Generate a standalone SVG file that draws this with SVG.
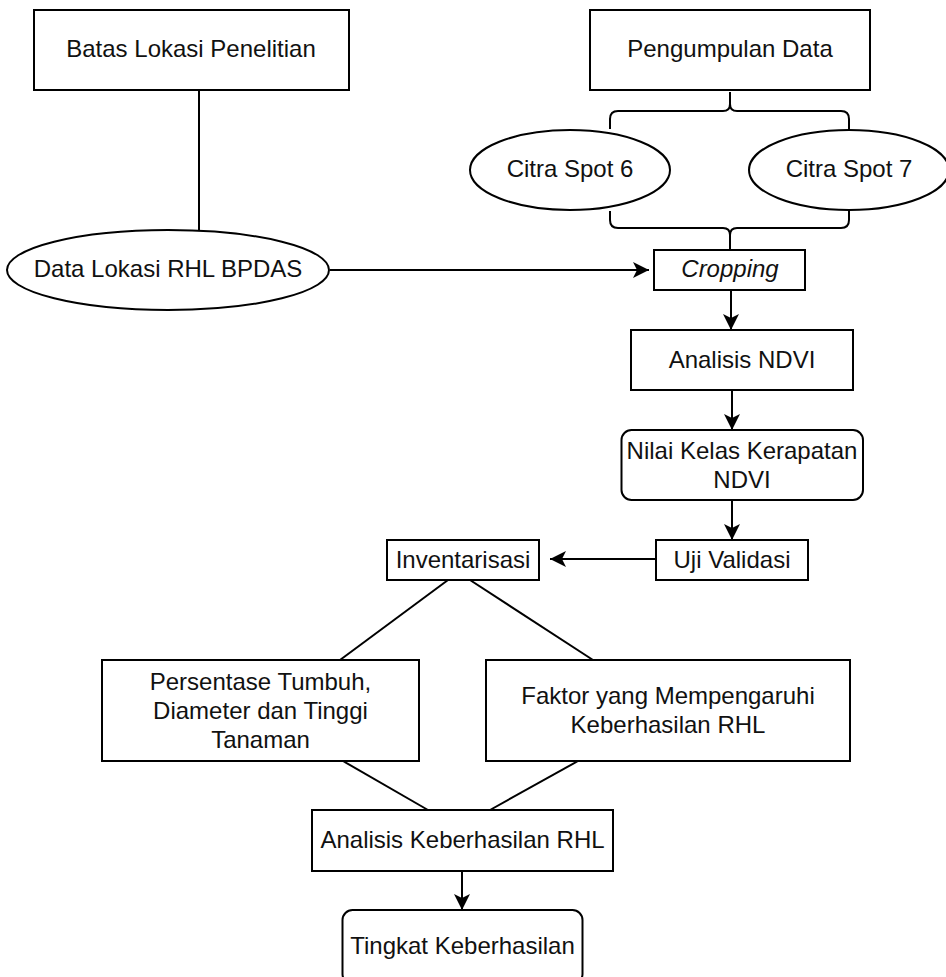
<svg xmlns="http://www.w3.org/2000/svg" width="946" height="977" viewBox="0 0 946 977">
<style>
.n{fill:#fff;stroke:#000;stroke-width:2}
.t{font-family:"Liberation Sans",Arial,sans-serif;font-size:24px;fill:#111;text-anchor:middle}
.c{fill:none;stroke:#000;stroke-width:2}
</style>
<defs>
<marker id="ah" viewBox="0 0 16 16" refX="16" refY="8" markerWidth="16" markerHeight="16" markerUnits="userSpaceOnUse" orient="auto">
<path d="M0,0 L16,8 L0,16 L4,8 z" fill="#000"/>
</marker>
</defs>
<rect width="946" height="977" fill="#fff"/>
<g id="connectors">
<path class="c" d="M199,90 V231"/>
<path class="c" d="M330,270 H649" marker-end="url(#ah)"/>
<path class="c" d="M610,129 V119 Q610,111 618,111 H723 Q730,111 730,104 V92 M730,104 Q730,111 737,111 H841 Q849,111 849,119 V129"/>
<path class="c" d="M610,211 V220 Q610,228 618,228 H723 Q730,228 730,235 V250 M730,235 Q730,228 737,228 H841 Q849,228 849,220 V211"/>
<path class="c" d="M731,290 V330" marker-end="url(#ah)"/>
<path class="c" d="M732,390 V430" marker-end="url(#ah)"/>
<path class="c" d="M732,500 V540" marker-end="url(#ah)"/>
<path class="c" d="M656,559 H550" marker-end="url(#ah)"/>
<path class="c" d="M448,580 L340,660"/>
<path class="c" d="M470,580 L593,660"/>
<path class="c" d="M343,761 L428,810"/>
<path class="c" d="M578,761 L490,810"/>
<path class="c" d="M462,871 V910" marker-end="url(#ah)"/>
</g>
<g id="batas">
<rect class="n" x="34" y="10" width="315" height="80"/>
<text class="t" x="191" y="57">Batas Lokasi Penelitian</text>
</g>
<g id="pengumpulan">
<rect class="n" x="590" y="10" width="280" height="80"/>
<text class="t" x="730" y="57">Pengumpulan Data</text>
</g>
<g id="spot6">
<ellipse class="n" cx="570" cy="170" rx="100" ry="40"/>
<text class="t" x="570" y="177">Citra Spot 6</text>
</g>
<g id="spot7">
<ellipse class="n" cx="849" cy="170" rx="100" ry="40"/>
<text class="t" x="849" y="177">Citra Spot 7</text>
</g>
<g id="datalokasi">
<ellipse class="n" cx="168" cy="270" rx="161" ry="40"/>
<text class="t" x="168" y="277">Data Lokasi RHL BPDAS</text>
</g>
<g id="cropping">
<rect class="n" x="654" y="250" width="151" height="40"/>
<text class="t" x="730" y="277" font-style="italic">Cropping</text>
</g>
<g id="ndvi">
<rect class="n" x="631" y="330" width="222" height="60"/>
<text class="t" x="742" y="368">Analisis NDVI</text>
</g>
<g id="nilai">
<rect class="n" x="621.5" y="430" width="241.5" height="70" rx="10"/>
<text class="t" x="742" y="459">Nilai Kelas Kerapatan</text>
<text class="t" x="742" y="488">NDVI</text>
</g>
<g id="uji">
<rect class="n" x="656" y="540" width="152" height="40"/>
<text class="t" x="732" y="568">Uji Validasi</text>
</g>
<g id="inventarisasi">
<rect class="n" x="387" y="540" width="152" height="40"/>
<text class="t" x="463" y="568">Inventarisasi</text>
</g>
<g id="persentase">
<rect class="n" x="102" y="660" width="317" height="101"/>
<text class="t" x="260.5" y="690">Persentase Tumbuh,</text>
<text class="t" x="260.5" y="719">Diameter dan Tinggi</text>
<text class="t" x="260.5" y="748">Tanaman</text>
</g>
<g id="faktor">
<rect class="n" x="486" y="660" width="364" height="101"/>
<text class="t" x="668" y="704">Faktor yang Mempengaruhi</text>
<text class="t" x="668" y="733">Keberhasilan RHL</text>
</g>
<g id="analisisrhl">
<rect class="n" x="312" y="810" width="301" height="61"/>
<text class="t" x="462.5" y="848">Analisis Keberhasilan RHL</text>
</g>
<g id="tingkat">
<rect class="n" x="342.5" y="910" width="240" height="74" rx="10"/>
<text class="t" x="462.5" y="954">Tingkat Keberhasilan</text>
</g>
</svg>
